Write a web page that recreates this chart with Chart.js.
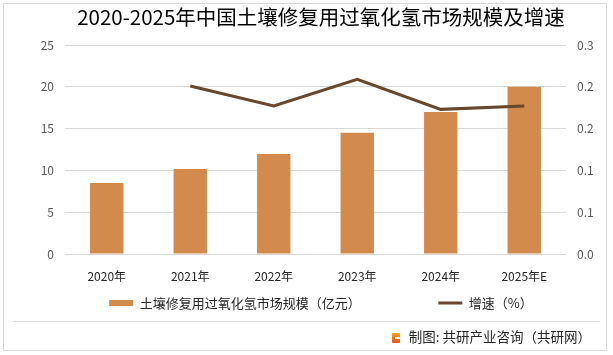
<!DOCTYPE html>
<html><head><meta charset="utf-8">
<script src="https://cdn.jsdelivr.net/npm/chart.js@4"></script>
<style>
html,body{margin:0;padding:0;background:#fff;}
#wrap{position:relative;width:613px;height:355px;overflow:hidden;font-family:"Noto Sans CJK SC","Noto Sans",sans-serif;}
canvas{position:absolute;left:0;top:0;}
#frame{position:absolute;left:3px;top:3px;width:602px;height:346px;border:1px solid #d9d9d9;pointer-events:none;}
#sep{position:absolute;left:13px;top:321px;width:587px;height:1px;background:#d9d9d9;}
#foot{position:absolute;right:22px;top:327px;height:18px;line-height:18px;font-size:13.5px;color:#262626;white-space:nowrap;}
#foot .ic{display:inline-block;position:relative;width:8px;height:10px;margin-right:9px;vertical-align:-1px;border-radius:1px;background:linear-gradient(#f7a21b,#e9501d);}
#foot .ic:after{content:"";position:absolute;left:3px;top:4px;width:5px;height:2px;background:#fff;}
</style></head>
<body>
<div id="wrap">
<canvas id="c" width="613" height="355"></canvas>
<div id="frame"></div>
<div id="sep"></div>
<div id="foot"><span class="ic"></span>制图: 共研产业咨询（共研网）</div>
</div>
<script>
const categories = ['2020年','2021年','2022年','2023年','2024年','2025年E'];
const marketSize = [8.49, 10.17, 11.96, 14.51, 16.99, 20.01];
const growthRate = [null, 0.201, 0.177, 0.209, 0.173, 0.177];
const leftTickValues = [0, 5, 10, 15, 20, 25];
const rightTickValues = [0, 0.05, 0.10, 0.15, 0.20, 0.25];
const rightTickLabels = ['0.0','0.1','0.1','0.2','0.2','0.3'];
const barLabel = '土壤修复用过氧化氢市场规模（亿元）';
const lineLabel = '增速（%）';
const titleText = '2020-2025年中国土壤修复用过氧化氢市场规模及增速';

Chart.defaults.font.family = '"Noto Sans CJK SC","Noto Sans",sans-serif';

new Chart(document.getElementById('c'), {
  type: 'bar',
  data: {
    labels: categories,
    datasets: [
      {type:'bar', label: barLabel, data: marketSize, yAxisID:'y', backgroundColor:'#d38b4d', barPercentage:0.4, categoryPercentage:1, order:1},
      {type:'line', label: lineLabel, data: growthRate, yAxisID:'y1', borderColor:'#67482d', backgroundColor:'#67482d', borderWidth:3, pointRadius:0, tension:0, order:0}
    ]
  },
  options: {
    responsive:false, animation:false,
    layout:{padding:{left:29,right:0,top:0,bottom:35.5}},
    plugins:{
      title:{display:true, text:titleText, color:'#000', font:{size:20.5, weight:'normal'}, padding:{top:5,bottom:15.4}},
      legend:{position:'bottom', labels:{
        usePointStyle:true, pointStyleWidth:24, boxHeight:6, padding:13.3, color:'#262626', font:{size:13},
        generateLabels(chart){
          return chart.data.datasets.map((ds,i)=>({
            text: i===0 ? ds.label + '\u3000\u3000\u3000\u3000\u3000  ' : ds.label,
            fillStyle: ds.type==='line' ? ds.borderColor : ds.backgroundColor,
            strokeStyle: ds.type==='line' ? ds.borderColor : ds.backgroundColor,
            lineWidth: ds.type==='line' ? 3 : 0,
            pointStyle: ds.type==='line' ? 'line' : 'rect',
            hidden: !chart.isDatasetVisible(i),
            datasetIndex: i,
            fontColor:'#262626'
          }));
        }
      }},
      tooltip:{enabled:false}
    },
    scales:{
      x:{grid:{display:false, drawTicks:false}, border:{display:false},
        afterFit(s){ s.height = 29.2; },
        ticks:{color:'#262626', font:{size:12}, padding:14.8, maxRotation:0}},
      y:{position:'left', min:0, max:25,
        afterBuildTicks(s){ s.ticks = leftTickValues.map(v=>({value:v})); },
        afterFit(s){ s.width = 36; },
        grid:{color:'#d9d9d9', drawTicks:false}, border:{display:false},
        ticks:{color:'#595959', font:{size:12}, padding:11}},
      y1:{position:'right', min:0, max:0.25,
        afterBuildTicks(s){ s.ticks = rightTickValues.map(v=>({value:v})); },
        afterFit(s){ s.width = 47; },
        grid:{display:false, drawTicks:false}, border:{display:false},
        ticks:{color:'#595959', font:{size:12}, padding:11, callback:(v,i)=>rightTickLabels[i]}}
    }
  }
});
</script>
</body></html>
